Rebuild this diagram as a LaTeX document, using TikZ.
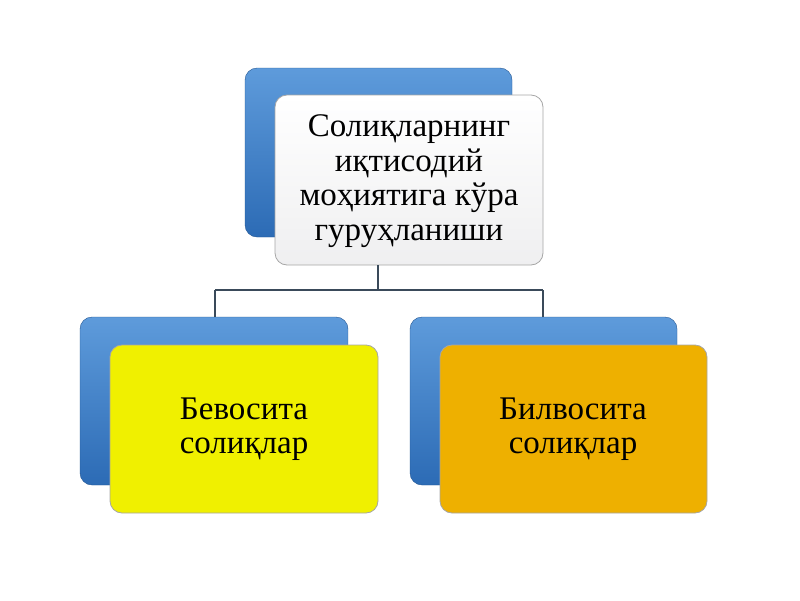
\documentclass[tikz,border=0pt]{standalone}
\usepackage{fontspec}
\setmainfont{Liberation Serif}
\usetikzlibrary{positioning}
\definecolor{bluetop}{HTML}{5E9BDB}
\definecolor{bluebot}{HTML}{2C6BB5}
\definecolor{yellowfill}{HTML}{F0F000}
\definecolor{orangefill}{HTML}{EEB000}
\definecolor{linegray}{HTML}{3A4A5A}
\tikzset{
    backbox/.style={rounded corners=12pt, draw=bluebot!80!black, top color=bluetop, bottom color=bluebot},
    frontbox/.style={rounded corners=12pt, draw=gray!70, line width=0.8pt},
    boxtext/.style={align=center, font=\fontsize{33}{34.5}\selectfont},
    connector/.style={draw=linegray, line width=1.2pt}
}
\begin{document}
\begin{tikzpicture}[x=1pt,y=-1pt]
    \useasboundingbox (0,0) rectangle (800,600);
    % Back boxes
    \draw[backbox] (245,68) rectangle (512,237);
    \draw[backbox] (80,317) rectangle (348,485);
    \draw[backbox] (410,317) rectangle (677,485);
    % Front boxes
    \draw[frontbox, top color=white, bottom color=blue!4!gray!12] (275,95) rectangle (543,265);
    \draw[frontbox, fill=yellowfill] (110,345) rectangle (378,513);
    \draw[frontbox, fill=orangefill] (440,345) rectangle (707,513);
    % Texts
    \node[boxtext] (top) at (409,181) {Солиқларнинг\\иқтисодий\\моҳиятига кўра\\гуруҳланиши};
    \node[boxtext] (left) at (244,429) {Бевосита\\солиқлар};
    \node[boxtext] (right) at (573,429) {Билвосита\\солиқлар};
    % Connectors
    \coordinate (topout) at (378,265);
    \coordinate (hub) at (378,290);
    \coordinate (lefthub) at (215,290);
    \coordinate (righthub) at (543,290);
    \coordinate (leftin) at (215,317);
    \coordinate (rightin) at (543,317);
    \draw[connector] (topout) -- (hub);
    \draw[connector] (lefthub) -- (righthub);
    \draw[connector] (lefthub) -- (leftin);
    \draw[connector] (righthub) -- (rightin);
\end{tikzpicture}
\end{document}
